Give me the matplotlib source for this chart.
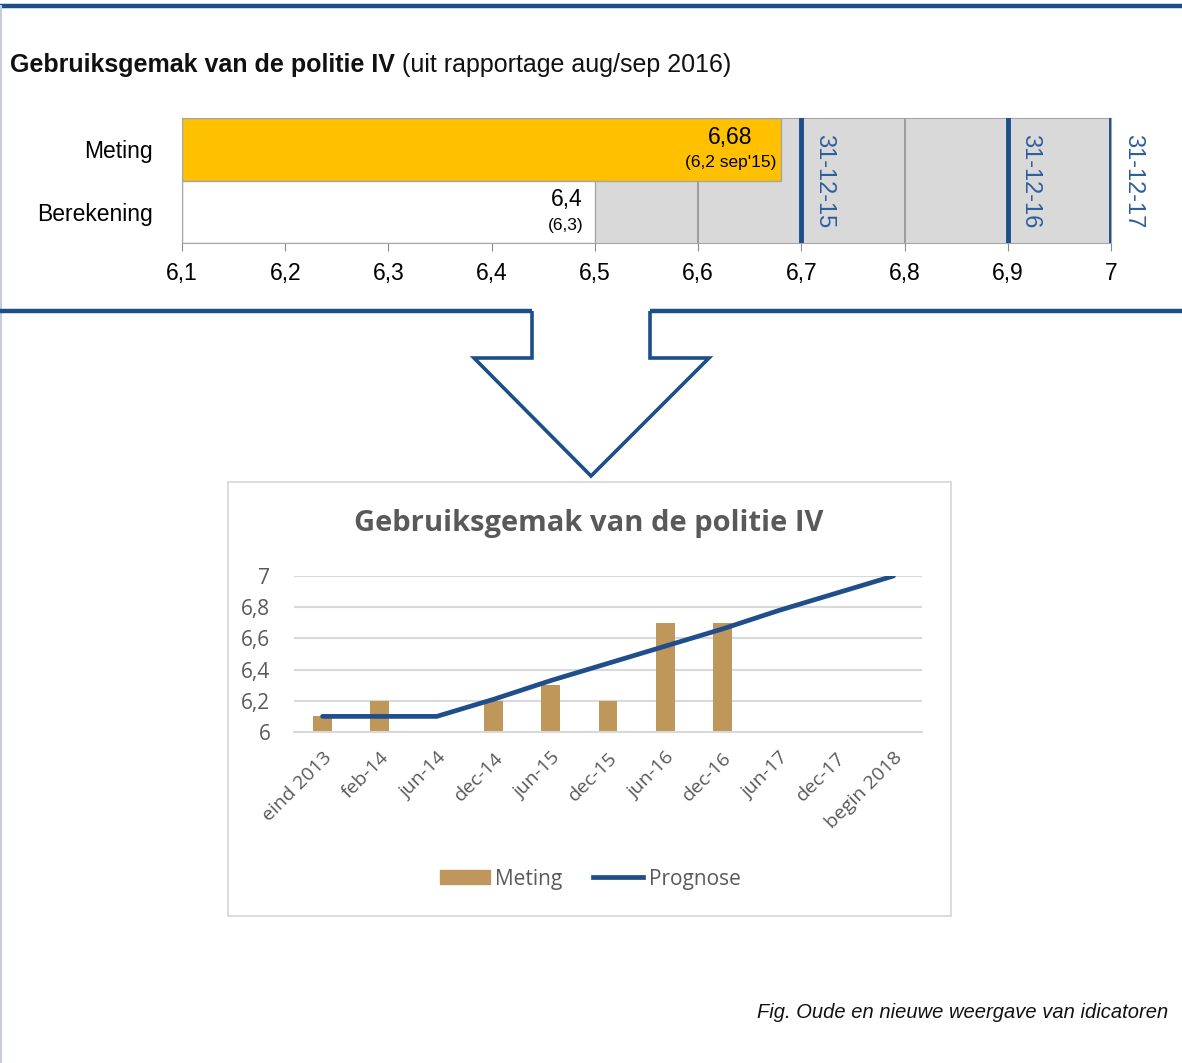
import numpy as np
import matplotlib
matplotlib.use("Agg")
import matplotlib.pyplot as plt
from matplotlib.patches import Rectangle, Polygon
from matplotlib.lines import Line2D

# old display (top)
old_rows = ["Meting", "Berekening"]
old_values = [6.68, 6.5]
old_labels = ["6,68", "6,4"]
old_sublabels = ["(6,2 sep'15)", "(6,3)"]
old_ticks = [6.1, 6.2, 6.3, 6.4, 6.5, 6.6, 6.7, 6.8, 6.9, 7.0]
old_ticklabels = ["6,1", "6,2", "6,3", "6,4", "6,5", "6,6", "6,7", "6,8", "6,9", "7"]
deadlines = [6.7, 6.9, 7.0]
deadline_labels = ["31-12-15", "31-12-16", "31-12-17"]

# new display (bottom)
periods = ["eind 2013", "feb-14", "jun-14", "dec-14", "jun-15", "dec-15",
           "jun-16", "dec-16", "jun-17", "dec-17", "begin 2018"]
meting = [6.1, 6.2, np.nan, 6.2, 6.3, 6.2, 6.7, 6.7, np.nan, np.nan, np.nan]
prognose = [6.1, 6.1, 6.1, 6.21, 6.33, 6.44, 6.55, 6.66, 6.78, 6.89, 7.0]
new_yticks = [6, 6.2, 6.4, 6.6, 6.8, 7]
new_yticklabels = ["6", "6,2", "6,4", "6,6", "6,8", "7"]

W, H = 1182, 1063
fig = plt.figure(figsize=(W / 100, H / 100), dpi=100)
blue = "#1c4f8a"
ax_bg = fig.add_axes([0, 0, 1, 1])
ax_bg.set_xlim(0, W)
ax_bg.set_ylim(H, 0)
ax_bg.axis("off")

# frame lines
ax_bg.plot([0, W], [6, 6], color=blue, lw=3.2, solid_capstyle="butt")
ax_bg.plot([0.8, 0.8], [6, H], color="#c5cde0", lw=1.5)
ax_bg.plot([0, 532], [311, 311], color=blue, lw=3.2, solid_capstyle="butt")
ax_bg.plot([650, W], [311, 311], color=blue, lw=3.2, solid_capstyle="butt")
arrow = [(532, 311), (532, 358), (474, 358), (591, 476), (709, 358), (650, 358), (650, 311)]
ax_bg.add_patch(Polygon(arrow, closed=False, fill=False, edgecolor=blue, lw=2.6, joinstyle="miter"))

# top title
t = ax_bg.text(10, 65, "Gebruiksgemak van de politie IV", fontsize=18, fontweight="bold",
               family="Liberation Sans", va="center", ha="left", color="#111111")
fig.canvas.draw()
bb = t.get_window_extent()
ax_bg.text(bb.x1 + 7, 65, "(uit rapportage aug/sep 2016)", fontsize=18,
           family="Liberation Sans", va="center", ha="left", color="#111111")

# --- old bar display
def fax(x0, y0, x1, y1):
    return fig.add_axes([x0 / W, 1 - y1 / H, (x1 - x0) / W, (y1 - y0) / H])

fs = 16.5
ax1 = fax(182, 118, 1111, 243)
ax1.set_facecolor("#d9d9d9")
ax1.set_xlim(6.1, 7.0)
ax1.set_ylim(2, 0)
for x in old_ticks:
    ax1.axvline(x, color="#8c8c8c", lw=1.1, zorder=1)
ax1.barh([0.5, 1.5], [v - 6.1 for v in old_values], left=6.1, height=1.0,
         color=["#ffc000", "white"], edgecolor="#a6a6a6", lw=1.0, zorder=2)
for x, lab in zip(deadlines, deadline_labels):
    ax1.axvline(x, color=blue, lw=3.5, zorder=3)
    ax1.text(x + 0.011, 0.26, lab, rotation=-90, color="#2e5e9c", fontsize=17,
             family="Liberation Sans", ha="left", va="top", zorder=4)
ax1.text(6.631, 0.31, old_labels[0], fontsize=fs, family="Liberation Sans", ha="center", va="center")
ax1.text(6.676, 0.72, old_sublabels[0], fontsize=12.5, family="Liberation Sans", ha="right", va="center")
ax1.text(6.473, 1.31, old_labels[1], fontsize=fs, family="Liberation Sans", ha="center", va="center")
ax1.text(6.472, 1.72, old_sublabels[1], fontsize=12.5, family="Liberation Sans", ha="center", va="center")
ax1.set_xticks(old_ticks)
ax1.set_xticklabels(old_ticklabels, fontsize=fs, family="Liberation Sans")
ax1.set_yticks([0.5, 1.5])
ax1.set_yticklabels(old_rows, fontsize=fs, family="Liberation Sans")
ax1.tick_params(axis="y", length=0, pad=21)
ax1.tick_params(axis="x", length=6, color="#8c8c8c", pad=8)
for s in ax1.spines.values():
    s.set_color("#a6a6a6")

# --- new chart box
ax_bg.add_patch(Rectangle((228, 482), 723, 434, fill=False, edgecolor="#d9d9d9", lw=1.3))
ax_bg.text(589, 523, "Gebruiksgemak van de politie IV", fontsize=21, fontweight="bold",
           family="Open Sans", color="#595959", ha="center", va="center")

ax2 = fax(294, 576, 922, 732)
x = np.arange(len(periods))
ax2.bar(x, np.array(meting) - 6, bottom=6, width=0.33, color="#c0975a", zorder=2, label="Meting")
ax2.plot(x, prognose, color="#1f4e8a", lw=3.4, zorder=3, label="Prognose", solid_capstyle="round")
ax2.set_xlim(-0.5, len(periods) - 0.5)
ax2.set_ylim(6, 7)
ax2.set_yticks(new_yticks)
ax2.set_yticklabels(new_yticklabels, fontsize=15, family="Open Sans", color="#595959")
ax2.yaxis.grid(True, color="#d9d9d9", lw=1.5, zorder=0)
ax2.set_axisbelow(True)
ax2.set_xticks(x)
ax2.set_xticklabels(periods, rotation=45, ha="right", rotation_mode="anchor",
                    fontsize=14, family="Open Sans", color="#595959")
ax2.tick_params(axis="both", length=0)
ax2.tick_params(axis="y", pad=17)
ax2.tick_params(axis="x", pad=12)
for k, s in ax2.spines.items():
    s.set_visible(k == "bottom")
ax2.spines["bottom"].set_color("#d9d9d9")
ax2.spines["bottom"].set_linewidth(1.5)

handles = [Rectangle((0, 0), 1, 1, color="#c0975a"), Line2D([], [], color="#1f4e8a", lw=3.4)]
fig.legend(handles, ["Meting", "Prognose"], loc="center", bbox_to_anchor=(590 / W, 1 - 879 / H),
           ncol=2, frameon=False, prop={"family": "Open Sans", "size": 15},
           handlelength=2.4, handleheight=0.65, handletextpad=0.25, columnspacing=1.5,
           labelcolor="#595959")

ax_bg.text(1168, 1013, "Fig. Oude en nieuwe weergave van idicatoren", fontsize=14.5, style="italic",
           family="Liberation Sans", ha="right", va="center", color="#111111")

fig.savefig("out.png", dpi=100)
